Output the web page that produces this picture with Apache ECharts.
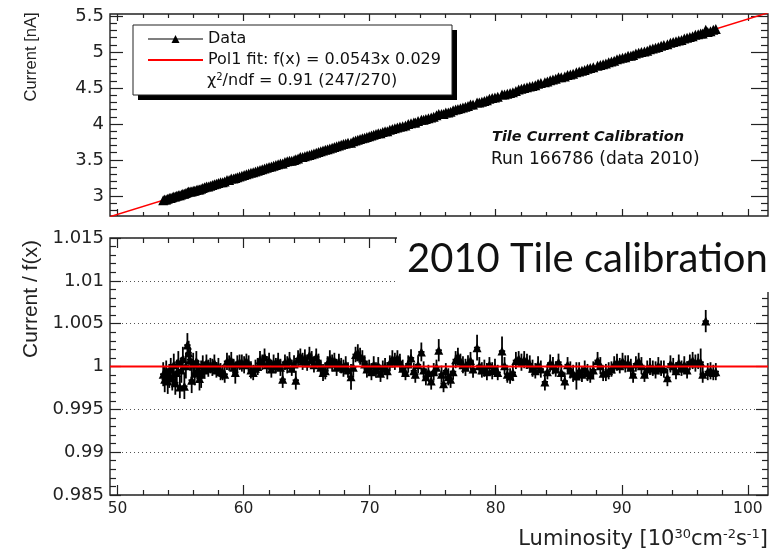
<!DOCTYPE html>
<html>
<head>
<meta charset="utf-8">
<script src="https://cdn.jsdelivr.net/npm/echarts@6.0.0/dist/echarts.min.js"></script>
<style>
  html, body { margin: 0; padding: 0; background: #fff; }
  #chart { width: 778px; height: 552px; }
</style>
</head>
<body>
<div id="chart"></div>
<script>
// luminosity of each measurement [1e30 cm^-2 s^-1]
const lumi = [
  53.62, 53.74, 53.86, 53.98, 54.10, 54.22, 54.34, 54.46, 54.58, 54.70,
  54.82, 54.94, 55.06, 55.18, 55.30, 55.42, 55.54, 55.64, 55.76, 55.88,
  56.00, 56.12, 56.25, 56.38, 56.50, 56.63, 56.76, 56.90, 57.05, 57.20,
  57.36, 57.52, 57.68, 57.84, 58.00, 58.17, 58.34, 58.50, 58.68, 58.85,
  59.02, 59.20, 59.34, 59.50, 59.68, 59.86, 60.04, 60.22, 60.40, 60.58,
  60.76, 60.94, 61.12, 61.30, 61.48, 61.66, 61.84, 62.02, 62.20, 62.38,
  62.56, 62.74, 62.92, 63.10, 63.28, 63.46, 63.64, 63.82, 64.00, 64.14,
  64.32, 64.50, 64.68, 64.86, 65.04, 65.22, 65.40, 65.58, 65.76, 65.94,
  66.12, 66.30, 66.48, 66.66, 66.84, 67.02, 67.20, 67.38, 67.56, 67.74,
  67.92, 68.10, 68.28, 68.52, 68.70, 68.88, 69.06, 69.24, 69.42, 69.60,
  69.78, 69.96, 70.14, 70.32, 70.50, 70.68, 70.86, 71.04, 71.22, 71.40,
  71.60, 71.80, 72.00, 72.20, 72.40, 72.62, 72.84, 73.06, 73.28, 73.50,
  73.62, 73.84, 74.10, 74.28, 74.46, 74.66, 74.88, 75.08, 75.30, 75.48,
  75.70, 75.86, 76.04, 76.24, 76.42, 76.62, 76.82, 77.00, 77.20, 77.40,
  77.60, 77.80, 78.00, 78.20, 78.52, 78.70, 78.90, 79.10, 79.30, 79.50,
  79.72, 79.94, 80.16, 80.50, 80.70, 80.92, 81.14, 81.36, 81.60, 81.82,
  82.04, 82.26, 82.48, 82.70, 82.92, 83.14, 83.36, 83.58, 83.90, 84.10,
  84.32, 84.54, 84.76, 84.98, 85.20, 85.48, 85.70, 85.92, 86.14, 86.40,
  86.62, 86.84, 87.06, 87.28, 87.50, 87.74, 88.08, 88.30, 88.52, 88.74,
  88.96, 89.18, 89.40, 89.62, 89.84, 90.06, 90.28, 90.50, 90.72, 90.90,
  91.12, 91.34, 91.56, 91.80, 92.02, 92.24, 92.46, 92.68, 92.90, 93.12,
  93.34, 93.62, 93.86, 94.08, 94.30, 94.52, 94.74, 94.96, 95.18, 95.40,
  95.62, 95.84, 96.06, 96.26, 96.42, 96.66, 96.82, 97.04, 97.26, 97.46
];

// measured current [nA]
const current = [
  2.94, 2.95, 2.95, 2.96, 2.97, 2.97, 2.98, 2.99, 2.99, 3.00,
  3.01, 3.01, 3.02, 3.03, 3.03, 3.04, 3.05, 3.06, 3.06, 3.06,
  3.07, 3.07, 3.08, 3.09, 3.09, 3.10, 3.11, 3.12, 3.13, 3.13,
  3.14, 3.15, 3.16, 3.17, 3.18, 3.19, 3.19, 3.20, 3.22, 3.22,
  3.24, 3.24, 3.25, 3.26, 3.27, 3.28, 3.29, 3.30, 3.31, 3.32,
  3.33, 3.34, 3.35, 3.36, 3.37, 3.38, 3.39, 3.40, 3.41, 3.42,
  3.43, 3.44, 3.45, 3.45, 3.47, 3.48, 3.49, 3.49, 3.50, 3.51,
  3.52, 3.54, 3.54, 3.55, 3.56, 3.57, 3.58, 3.59, 3.60, 3.61,
  3.62, 3.63, 3.64, 3.65, 3.66, 3.67, 3.68, 3.69, 3.70, 3.71,
  3.72, 3.73, 3.74, 3.74, 3.76, 3.77, 3.78, 3.79, 3.80, 3.81,
  3.82, 3.83, 3.84, 3.85, 3.86, 3.87, 3.87, 3.89, 3.90, 3.90,
  3.92, 3.93, 3.94, 3.95, 3.96, 3.97, 3.98, 4.00, 4.01, 4.02,
  4.02, 4.04, 4.06, 4.06, 4.07, 4.08, 4.09, 4.10, 4.12, 4.14,
  4.14, 4.14, 4.16, 4.16, 4.17, 4.19, 4.20, 4.21, 4.22, 4.23,
  4.24, 4.25, 4.27, 4.27, 4.30, 4.30, 4.31, 4.32, 4.33, 4.35,
  4.36, 4.37, 4.38, 4.41, 4.41, 4.42, 4.43, 4.44, 4.46, 4.48,
  4.49, 4.50, 4.51, 4.52, 4.53, 4.54, 4.56, 4.57, 4.58, 4.59,
  4.61, 4.62, 4.63, 4.65, 4.65, 4.66, 4.68, 4.69, 4.70, 4.72,
  4.73, 4.74, 4.75, 4.77, 4.78, 4.79, 4.81, 4.82, 4.83, 4.84,
  4.86, 4.87, 4.88, 4.90, 4.91, 4.92, 4.93, 4.95, 4.95, 4.96,
  4.98, 4.99, 5.00, 5.01, 5.02, 5.04, 5.05, 5.06, 5.07, 5.09,
  5.10, 5.11, 5.13, 5.14, 5.15, 5.16, 5.17, 5.19, 5.20, 5.21,
  5.22, 5.24, 5.25, 5.26, 5.26, 5.31, 5.28, 5.29, 5.31, 5.32
];

// current divided by the fit
const ratio = [
  0.9991, 0.9985, 0.9994, 0.9983, 0.9989, 0.9997, 0.9987, 1.0002, 0.9981, 0.9993,
  1.0005, 0.9976, 0.9996, 1.0009, 0.9977, 1.0001, 1.0025, 1.0016, 1.0008, 0.9984,
  1.0003, 0.9992, 1.0006, 0.9995, 0.9986, 0.9991, 1.0002, 0.9996, 1.0004, 0.9998,
  1.0001, 0.9999, 1.0004, 0.9996, 1.0000, 0.9994, 0.9993, 0.9991, 1.0006, 1.0004,
  1.0007, 0.9999, 0.9993, 1.0003, 1.0005, 1.0004, 1.0002, 1.0006, 1.0003, 0.9996,
  0.9993, 0.9998, 1.0000, 1.0008, 1.0005, 1.0011, 1.0002, 1.0007, 0.9997, 1.0004,
  1.0001, 1.0006, 0.9999, 0.9985, 1.0005, 1.0002, 1.0007, 0.9998, 1.0003, 0.9984,
  1.0009, 1.0012, 1.0006, 1.0010, 1.0004, 1.0013, 1.0008, 1.0002, 1.0011, 1.0005,
  0.9999, 0.9993, 0.9995, 1.0003, 1.0009, 1.0004, 1.0007, 0.9999, 1.0005, 1.0001,
  0.9998, 1.0002, 0.9996, 0.9988, 0.9999, 1.0014, 1.0016, 1.0012, 1.0010, 1.0003,
  0.9997, 0.9999, 0.9994, 1.0002, 0.9996, 1.0001, 0.9992, 0.9998, 1.0000, 0.9995,
  1.0004, 1.0009, 1.0006, 1.0010, 1.0005, 0.9998, 0.9993, 1.0003, 1.0010, 0.9995,
  0.9991, 1.0002, 1.0017, 0.9996, 0.9988, 0.9993, 0.9983, 0.9994, 0.9999, 1.0019,
  0.9991, 0.9980, 0.9995, 0.9988, 0.9985, 0.9994, 1.0008, 1.0012, 1.0006, 1.0002,
  0.9999, 1.0004, 1.0007, 0.9997, 1.0022, 1.0001, 0.9996, 0.9998, 0.9994, 1.0002,
  0.9995, 0.9999, 0.9993, 1.0018, 1.0001, 0.9991, 0.9989, 0.9993, 1.0007, 1.0009,
  1.0005, 1.0008, 1.0006, 1.0003, 0.9998, 0.9995, 1.0002, 0.9997, 0.9982, 0.9994,
  1.0004, 1.0001, 0.9997, 1.0005, 0.9993, 0.9983, 1.0002, 0.9996, 0.9992, 0.9989,
  0.9995, 0.9991, 0.9997, 0.9993, 0.9990, 0.9996, 1.0007, 1.0001, 0.9992, 0.9993,
  0.9995, 0.9997, 1.0002, 1.0005, 1.0001, 1.0006, 1.0003, 1.0004, 0.9999, 0.9991,
  1.0003, 1.0006, 1.0001, 0.9991, 0.9997, 1.0000, 0.9998, 0.9996, 1.0001, 0.9998,
  0.9997, 0.9987, 1.0003, 1.0001, 0.9995, 1.0004, 0.9998, 1.0002, 0.9996, 1.0005,
  1.0007, 1.0004, 1.0006, 1.0005, 0.9991, 1.0053, 0.9994, 0.9995, 0.9993, 0.9994
];

// half-length of the vertical error bar on the ratio
const ratioErr = [
  0.0014, 0.0015, 0.0013, 0.0015, 0.0014, 0.0013, 0.0015, 0.0013, 0.0014, 0.0015,
  0.0013, 0.0013, 0.0015, 0.0014, 0.0015, 0.0015, 0.0014, 0.0014, 0.0013, 0.0015,
  0.0013, 0.0014, 0.0012, 0.0013, 0.0014, 0.0016, 0.0011, 0.0010, 0.0010, 0.0010,
  0.0009, 0.0010, 0.0010, 0.0009, 0.0010, 0.0010, 0.0009, 0.0010, 0.0010, 0.0009,
  0.0010, 0.0010, 0.0013, 0.0010, 0.0009, 0.0010, 0.0010, 0.0009, 0.0010, 0.0010,
  0.0009, 0.0010, 0.0010, 0.0010, 0.0009, 0.0010, 0.0010, 0.0009, 0.0010, 0.0010,
  0.0009, 0.0010, 0.0010, 0.0010, 0.0009, 0.0010, 0.0010, 0.0009, 0.0010, 0.0011,
  0.0010, 0.0009, 0.0010, 0.0010, 0.0009, 0.0010, 0.0010, 0.0009, 0.0010, 0.0010,
  0.0009, 0.0010, 0.0010, 0.0009, 0.0010, 0.0010, 0.0009, 0.0010, 0.0010, 0.0009,
  0.0010, 0.0010, 0.0009, 0.0015, 0.0010, 0.0009, 0.0010, 0.0010, 0.0009, 0.0010,
  0.0010, 0.0009, 0.0010, 0.0010, 0.0009, 0.0010, 0.0010, 0.0009, 0.0010, 0.0010,
  0.0009, 0.0010, 0.0010, 0.0009, 0.0010, 0.0010, 0.0009, 0.0010, 0.0010, 0.0009,
  0.0010, 0.0010, 0.0011, 0.0010, 0.0010, 0.0009, 0.0010, 0.0010, 0.0009, 0.0013,
  0.0010, 0.0010, 0.0009, 0.0010, 0.0010, 0.0009, 0.0010, 0.0010, 0.0009, 0.0010,
  0.0010, 0.0009, 0.0010, 0.0010, 0.0015, 0.0010, 0.0009, 0.0010, 0.0010, 0.0009,
  0.0010, 0.0010, 0.0009, 0.0017, 0.0010, 0.0010, 0.0009, 0.0010, 0.0010, 0.0009,
  0.0010, 0.0010, 0.0009, 0.0010, 0.0010, 0.0009, 0.0010, 0.0010, 0.0010, 0.0009,
  0.0010, 0.0010, 0.0009, 0.0010, 0.0010, 0.0010, 0.0009, 0.0010, 0.0010, 0.0016,
  0.0010, 0.0009, 0.0010, 0.0010, 0.0009, 0.0010, 0.0010, 0.0010, 0.0009, 0.0010,
  0.0010, 0.0009, 0.0010, 0.0010, 0.0009, 0.0010, 0.0010, 0.0009, 0.0010, 0.0010,
  0.0009, 0.0010, 0.0010, 0.0009, 0.0010, 0.0010, 0.0009, 0.0010, 0.0010, 0.0009,
  0.0010, 0.0010, 0.0010, 0.0009, 0.0010, 0.0010, 0.0009, 0.0010, 0.0010, 0.0009,
  0.0010, 0.0010, 0.0009, 0.0016, 0.0010, 0.0013, 0.0010, 0.0010, 0.0009, 0.0010
];
const lumiErr = 0.25;

// pol1 fit, drawn edge to edge of the frame
const fitLumi = [49.4, 101.6];
const fitCurrent = [2.711, 5.546];
const fitRatio = [1, 1];

// axis ticks
const xMajor = [50, 60, 70, 80, 90, 100];
const xMinor = [52, 54, 56, 58, 62, 64, 66, 68, 72, 74, 76, 78, 82, 84, 86, 88, 92, 94, 96, 98];
const yTopMajor = [3, 3.5, 4, 4.5, 5, 5.5];
const yTopMinor = [2.8, 2.9, 3.1, 3.2, 3.3, 3.4, 3.6, 3.7, 3.8, 3.9, 4.1, 4.2, 4.3, 4.4,
  4.6, 4.7, 4.8, 4.9, 5.1, 5.2, 5.3, 5.4];
const yBotMajor = [0.985, 0.99, 0.995, 1, 1.005, 1.01, 1.015];
const yBotMinor = [0.986, 0.987, 0.988, 0.989, 0.991, 0.992, 0.993, 0.994, 0.996, 0.997,
  0.998, 0.999, 1.001, 1.002, 1.003, 1.004, 1.006, 1.007, 1.008, 1.009, 1.011, 1.012,
  1.013, 1.014];

const FIT_NAME = "Pol1 fit: f(x) = 0.0543x 0.029";
const FONT = "'DejaVu Sans', sans-serif";
const TITLE_FONT = "'Liberation Sans', Arial, sans-serif";
const INK = "#222";
const X_MIN = 49.4, X_MAX = 101.6;

const topRect = { left: 110, top: 14, right: 10, height: 202 };
const botRect = { left: 110, top: 238, right: 10, height: 257 };

// ROOT draws ticks on all four sides of the frame, so each axis comes twice
function xAxes(gridIndex, ticks, len, labels) {
  return ["bottom", "top"].map((position) => ({
    type: "value", gridIndex, position, min: X_MIN, max: X_MAX,
    axisLine: { show: false },
    splitLine: { show: false },
    axisTick: { show: true, inside: true, length: len, customValues: ticks, lineStyle: { color: INK, width: 1.2 } },
    axisLabel: labels && position === "bottom"
      ? { customValues: labels, color: INK, fontFamily: FONT, fontSize: 15.5, margin: 6 }
      : { show: false },
  }));
}

function yAxes(gridIndex, min, max, ticks, lenLeft, lenRight, labels, extra) {
  return ["left", "right"].map((position) => ({
    type: "value", gridIndex, position, min, max,
    axisLine: { show: false },
    splitLine: { show: false },
    axisTick: { show: true, inside: true, length: position === "left" ? lenLeft : lenRight, customValues: ticks, lineStyle: { color: INK, width: 1.2 } },
    axisLabel: labels && position === "left"
      ? { customValues: labels, color: INK, fontFamily: FONT, fontSize: 18, margin: 6, formatter: (v) => String(+(+v).toFixed(3)) }
      : { show: false },
    ...(extra && position === "left" ? extra : {}),
  }));
}

const chart = echarts.init(document.getElementById("chart"), null, { renderer: "canvas" });

chart.setOption({
  animation: false,
  backgroundColor: "#fff",
  grid: [
    { ...topRect, show: true, borderColor: INK, borderWidth: 1.4, backgroundColor: "transparent" },
    { ...topRect },
    { ...botRect, show: true, borderColor: INK, borderWidth: 1.4, backgroundColor: "transparent" },
    { ...botRect },
  ],
  xAxis: [
    ...xAxes(0, xMajor, 7, null),
    ...xAxes(1, xMinor, 4, null),
    ...xAxes(2, xMajor, 10, xMajor),
    ...xAxes(3, xMinor, 5, null),
  ],
  yAxis: [
    ...yAxes(0, 2.72, 5.53, yTopMajor, 13, 17, yTopMajor),
    ...yAxes(1, 2.72, 5.53, yTopMinor, 7, 7, null),
    ...yAxes(2, 0.985, 1.015, yBotMajor, 11, 12, yBotMajor, {
      interval: 0.005,
      splitLine: { show: true, lineStyle: { color: "#555", width: 1, type: [1, 3] } },
    }),
    ...yAxes(3, 0.985, 1.015, yBotMinor, 6, 6, null),
  ],
  legend: {
    data: [
      { name: "Data", lineStyle: { color: "#000", width: 1.2, opacity: 1 } },
      { name: FIT_NAME, itemStyle: { opacity: 0 } },
    ],
    orient: "vertical",
    left: 147, top: 31,
    itemWidth: 55, itemHeight: 10, itemGap: 5,
    padding: 0,
    selectedMode: false,
    z: 20,
    textStyle: { fontFamily: FONT, fontSize: 16, color: "#111", lineHeight: 16 },
  },
  series: [
    {
      name: FIT_NAME, type: "line", xAxisIndex: 0, yAxisIndex: 0,
      data: fitLumi.map((x, i) => [x, fitCurrent[i]]),
      symbol: "none", z: 2, silent: true,
      lineStyle: { color: "#ff0000", width: 1.6 }, itemStyle: { color: "#ff0000" },
    },
    {
      name: "Data", type: "line", xAxisIndex: 0, yAxisIndex: 0,
      data: lumi.map((x, i) => [x, current[i]]),
      symbol: "triangle", symbolSize: 10, z: 3, silent: true,
      itemStyle: { color: "#000" }, lineStyle: { width: 0, opacity: 0 },
    },
    {
      name: "ratio errors", type: "custom", xAxisIndex: 4, yAxisIndex: 4, z: 3, silent: true,
      data: lumi.map((x, i) => [x, ratio[i], ratioErr[i]]),
      encode: { x: 0, y: 1 },
      renderItem: (params, api) => {
        const x = api.value(0), y = api.value(1), e = api.value(2);
        const lo = api.coord([x, y - e]);
        const hi = api.coord([x, y + e]);
        const l = api.coord([x - lumiErr, y]);
        const r = api.coord([x + lumiErr, y]);
        const style = { stroke: "#000", lineWidth: 1.8 };
        return {
          type: "group",
          children: [
            { type: "line", shape: { x1: lo[0], y1: lo[1], x2: hi[0], y2: hi[1] }, style },
            { type: "line", shape: { x1: l[0], y1: l[1], x2: r[0], y2: r[1] }, style },
          ],
        };
      },
    },
    {
      name: "ratio", type: "scatter", xAxisIndex: 4, yAxisIndex: 4, z: 4, silent: true,
      data: lumi.map((x, i) => [x, ratio[i]]),
      symbol: "triangle", symbolSize: 9, itemStyle: { color: "#000", opacity: 1 },
    },
    {
      name: "ratio fit", type: "line", xAxisIndex: 4, yAxisIndex: 4, z: 5, silent: true,
      data: fitLumi.map((x, i) => [x, fitRatio[i]]),
      symbol: "none", lineStyle: { color: "#ff0000", width: 2 },
    },
  ],
  graphic: [
    // legend frame with its drop shadow
    { type: "rect", z: 10, shape: { x: 138, y: 30, width: 319, height: 70 }, style: { fill: "#000" } },
    { type: "rect", z: 11, shape: { x: 133, y: 25, width: 319, height: 70 }, style: { fill: "#fff", stroke: "#222", lineWidth: 1 } },
    {
      type: "text", z: 12, x: 207, y: 81,
      style: {
        text: "{t|χ}{s|2}{t|/ndf = 0.91 (247/270)}",
        verticalAlign: "middle",
        rich: {
          t: { fontFamily: FONT, fontSize: 16, fill: "#111", lineHeight: 18 },
          s: { fontFamily: FONT, fontSize: 10, fill: "#111", verticalAlign: "top", lineHeight: 10 },
        },
      },
    },
    {
      type: "text", z: 12, x: 492, y: 137,
      style: { text: "Tile Current Calibration", fontFamily: FONT, fontSize: 14.5, fontWeight: "bold", fontStyle: "italic", fill: "#111", verticalAlign: "middle" },
    },
    {
      type: "text", z: 12, x: 491, y: 160,
      style: { text: "Run 166786 (data 2010)", fontFamily: FONT, fontSize: 17, fill: "#111", verticalAlign: "middle" },
    },
    // the slide title sits on a white patch over the lower frame
    { type: "rect", z: 10, shape: { x: 397, y: 228, width: 381, height: 64 }, style: { fill: "#fff" } },
    {
      type: "text", z: 12, x: 407, y: 259,
      style: { text: "2010 Tile calibration", fontFamily: "Lato", fontSize: 40, fill: "#111", verticalAlign: "middle" },
    },
    // axis titles
    {
      type: "text", z: 12, x: 31, y: 57, rotation: Math.PI / 2,
      style: { text: "Current [nA]", fontFamily: TITLE_FONT, fontSize: 16.5, fill: INK, align: "center", verticalAlign: "middle" },
    },
    {
      type: "text", z: 12, x: 31, y: 299, rotation: Math.PI / 2,
      style: { text: "Current / f(x)", fontFamily: TITLE_FONT, fontSize: 21, fill: INK, align: "center", verticalAlign: "middle" },
    },
    {
      type: "text", z: 12, x: 768, y: 540,
      style: {
        text: "{t|Luminosity [10}{s|30}{t|cm}{s|-2}{t|s}{s|-1}{t|]}",
        align: "right", verticalAlign: "middle",
        rich: {
          t: { fontFamily: FONT, fontSize: 21, fill: INK, lineHeight: 24 },
          s: { fontFamily: FONT, fontSize: 13, fill: INK, verticalAlign: "top", lineHeight: 12 },
        },
      },
    },
  ],
});
</script>
</body>
</html>
